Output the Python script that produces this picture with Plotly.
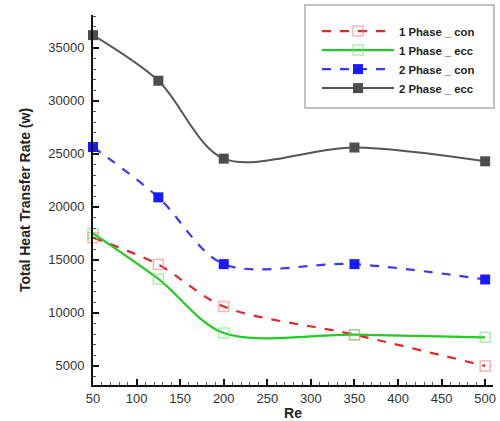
import plotly.graph_objects as go

re_vals = [50, 125, 200, 350, 500]
one_phase_con = [17100, 14560, 10600, 7950, 5000]
one_phase_ecc = [17500, 13200, 8100, 7950, 7700]
two_phase_con = [25650, 20900, 14600, 14600, 13150]
two_phase_ecc = [36200, 31900, 24550, 25600, 24300]

series = [
    ("1 Phase _ con", one_phase_con, dict(color="#e02828", width=2.2, dash="dash"),
     dict(symbol="square-open", size=10, color="rgba(240,120,120,0.55)", line=dict(width=1.5))),
    ("1 Phase _ ecc", one_phase_ecc, dict(color="#22cc22", width=2.2),
     dict(symbol="square-open", size=10, color="rgba(110,220,110,0.55)", line=dict(width=1.5))),
    ("2 Phase _ con", two_phase_con, dict(color="#3838ff", width=2.2, dash="dash"),
     dict(symbol="square", size=10, color="#1a1aff")),
    ("2 Phase _ ecc", two_phase_ecc, dict(color="#555555", width=2),
     dict(symbol="square", size=10, color="#4d4d4d")),
]

fig = go.Figure()
for name, vals, ln, mk in series:
    ln = dict(ln, shape="spline", smoothing=0.9)
    fig.add_trace(go.Scatter(x=re_vals, y=vals, name=name, mode="lines+markers",
                             line=ln, marker=mk, cliponaxis=False))

# legend frame
fig.add_shape(type="rect", xref="paper", yref="paper", x0=0.53, x1=1.0025, y0=0.7486, y1=1.027,
              line=dict(color="#b0b0b0", width=1.5), fillcolor="white", layer="below")

tickfont = dict(family="Liberation Sans, Arial", size=13, color="#333333")
fig.update_layout(
    width=500, height=421,
    margin=dict(l=93, r=7, t=15, b=36, autoexpand=False),
    paper_bgcolor="white", plot_bgcolor="rgba(0,0,0,0)",
    font=dict(family="Liberation Sans, Arial", color="#222222"),
    legend=dict(x=0.56, xanchor="left", y=1.0378, yanchor="top",
                borderwidth=0, bgcolor="rgba(0,0,0,0)",
                font=dict(size=11.3, family="Liberation Sans, Arial", color="#222222", weight="bold"),
                itemwidth=72, tracegroupgap=0,
                title=dict(text=" ", font=dict(size=12))),
    xaxis=dict(range=[50, 509], tickvals=list(range(50, 501, 50)), ticks="inside", ticklen=6,
               tickwidth=1.5, tickcolor="#111111", showline=True, linecolor="#111111", linewidth=2,
               showgrid=False, zeroline=False, tickfont=tickfont,
               minor=dict(dtick=10, tick0=50, ticks="inside", ticklen=3, tickcolor="#555555", tickwidth=1),
               title=dict(text="<b>Re</b>", font=dict(size=14, family="Liberation Sans, Arial", color="#222222"), standoff=2)),
    yaxis=dict(range=[3200, 38100], tickvals=list(range(5000, 35001, 5000)), tickformat="d",
               ticks="inside", ticklen=6, ticklabelstandoff=4,
               tickwidth=1.5, tickcolor="#111111", showline=True, linecolor="#111111", linewidth=2,
               showgrid=False, zeroline=False, tickfont=tickfont,
               minor=dict(dtick=1000, tick0=0, ticks="inside", ticklen=3, tickcolor="#555555", tickwidth=1),
               title=dict(text="<b>Total Heat Transfer Rate (w)</b>", font=dict(size=14, family="Liberation Sans, Arial", color="#222222"), standoff=14)),
)

fig.write_html("out.html")
